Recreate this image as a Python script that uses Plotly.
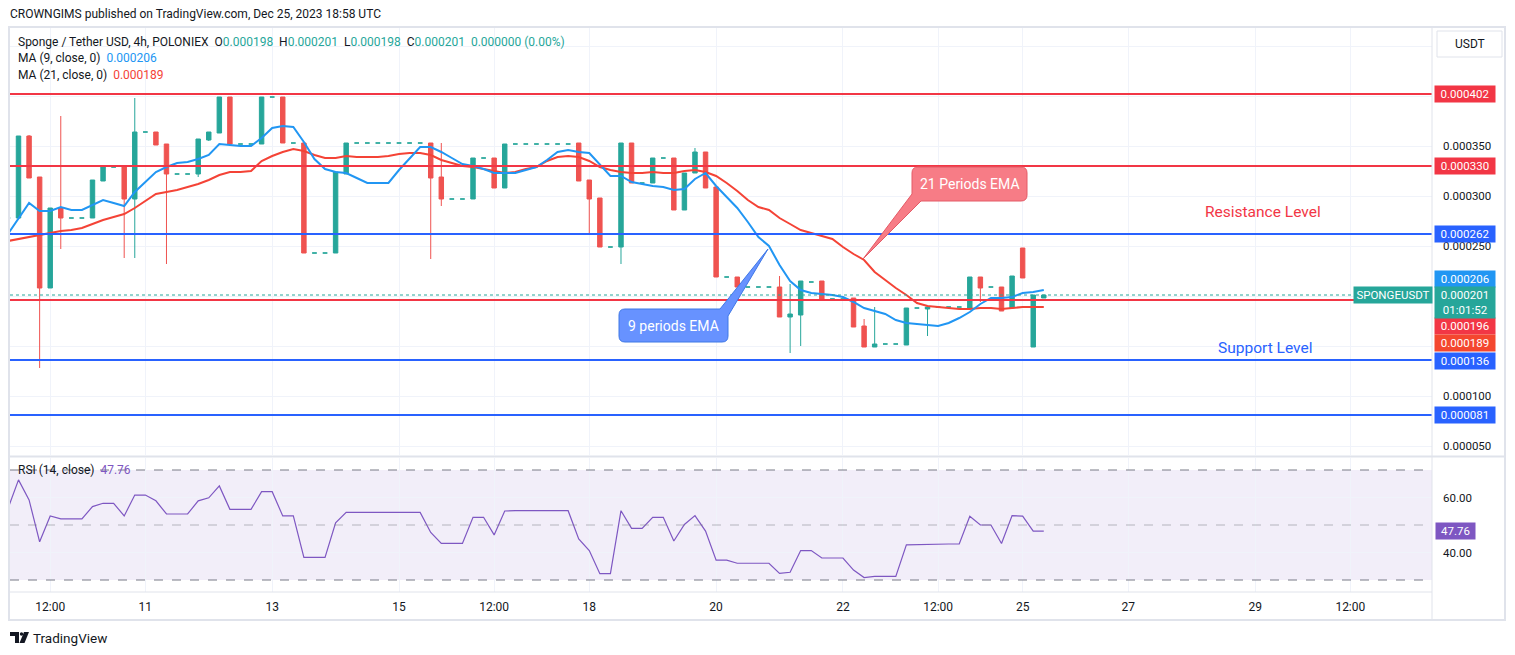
import plotly.graph_objects as go

# SPONGE/USDT 4h, Poloniex. Prices are in millionths of a USDT (278 -> 0.000278)
bar_index = list(range(-1, 98))

opens = [278, 278, 360, 319, 208, 288, 278, 278, 278, 315,
         329, 330, 297, 364, 364, 352, 322, 322, 322, 356,
         363, 399, 352, 352, 352, 399, 399, 353, 353, 243,
         243, 243, 322, 353, 353, 353, 353, 353, 353, 353,
         353, 319, 297, 297, 297, 338, 338, 308, 352, 352,
         352, 352, 352, 352, 353, 316, 298, 249, 249, 353,
         313, 313, 338, 338, 286, 323, 344, 309, 219, 219,
         209, 209, 209, 209, 179, 181, 214, 215, 197, 197,
         198, 170, 149, 152, 152, 151, 188, 187, 189, 189,
         189, 188, 219, 209, 209, 188, 248, 149, 198]
highs = [278, 360, 361, 319, 288, 380, 278, 278, 316, 329,
         329, 330, 398, 364, 364, 352, 322, 322, 357, 364,
         399, 399, 352, 352, 399, 399, 399, 353, 353, 243,
         243, 324, 353, 353, 353, 353, 353, 353, 353, 353,
         353, 353, 297, 297, 338, 338, 338, 352, 352, 352,
         352, 352, 352, 352, 353, 316, 298, 249, 353, 353,
         313, 338, 338, 338, 323, 348, 344, 309, 219, 219,
         209, 209, 209, 220, 212, 215, 214, 215, 197, 197,
         198, 177, 189, 152, 152, 188, 188, 189, 189, 189,
         189, 219, 219, 209, 209, 220, 248, 201, 201]
lows = [278, 278, 318, 128, 208, 247, 278, 278, 278, 315,
        329, 238, 238, 364, 351, 232, 322, 322, 319, 355,
        363, 352, 352, 352, 352, 399, 353, 353, 243, 243,
        243, 243, 322, 353, 353, 353, 353, 353, 353, 353,
        237, 290, 297, 297, 297, 338, 308, 308, 352, 352,
        352, 352, 352, 352, 315, 262, 249, 249, 232, 313,
        313, 313, 338, 286, 286, 323, 308, 219, 219, 209,
        209, 209, 209, 179, 143, 150, 214, 197, 197, 197,
        169, 149, 149, 152, 152, 151, 188, 160, 189, 189,
        189, 188, 194, 209, 185, 188, 218, 149, 198]
closes = [278, 360, 318, 208, 288, 278, 278, 278, 316, 329,
          329, 297, 364, 364, 351, 322, 322, 322, 357, 364,
          399, 352, 352, 352, 399, 399, 353, 353, 243, 243,
          243, 324, 353, 353, 353, 353, 353, 353, 353, 353,
          318, 297, 297, 297, 338, 338, 308, 352, 352, 352,
          352, 352, 352, 352, 315, 297, 249, 249, 353, 313,
          313, 338, 338, 286, 323, 344, 308, 219, 219, 209,
          209, 209, 209, 179, 182, 215, 214, 197, 197, 197,
          169, 149, 152, 152, 152, 188, 188, 189, 189, 189,
          189, 219, 208, 209, 185, 220, 218, 201, 201]

ma9 = [262, 278, 293, 285, 285, 289, 286, 286, 291, 296,
       293, 290, 304, 314, 324, 329, 333, 334, 337, 341,
       352, 351, 350, 350, 358, 368, 370, 369, 354, 337,
       327, 324, 323, 318, 313, 313, 313, 326, 338, 349,
       349, 344, 338, 332, 330, 327, 323, 323, 323, 326,
       329, 336, 344, 346, 344, 343, 332, 320, 320, 314,
       312, 310, 309, 306, 307, 317, 323, 310, 299, 288,
       274, 259, 250, 231, 215, 206, 203, 202, 201, 199,
       194, 188, 185, 182, 176, 173, 172, 171, 170, 173,
       178, 184, 192, 198, 198, 199, 203, 204, 206]
ma21 = [255, 257, 259, 261, 263, 265, 266, 268, 272, 276,
        279, 282, 288, 295, 302, 304, 306, 309, 312, 316,
        321, 324, 324, 325, 335, 340, 344, 347, 345, 341,
        338, 338, 340, 339, 339, 339, 340, 342, 343, 343,
        341, 336, 333, 330, 329, 327, 325, 323, 324, 327,
        329, 335, 339, 340, 339, 335, 329, 326, 324, 323,
        323, 324, 323, 323, 325, 326, 324, 320, 313, 305,
        296, 289, 286, 278, 272, 266, 263, 260, 257, 249,
        242, 236, 224, 216, 208, 201, 193, 190, 189, 188,
        187, 187, 188, 188, 187, 188, 189, 189, 189]
rsi = [56.0, 66.4, 59.1, 43.9, 53.3, 52.2, 52.2, 52.2, 56.7, 57.9,
       57.9, 53.3, 60.9, 60.9, 58.8, 54.0, 54.0, 54.0, 58.8, 59.9,
       64.2, 55.7, 55.7, 55.7, 62.1, 62.1, 53.3, 53.3, 38.2, 38.2,
       38.2, 50.8, 54.6, 54.6, 54.6, 54.6, 54.6, 54.6, 54.6, 54.6,
       47.3, 43.3, 43.3, 43.3, 52.8, 52.8, 46.4, 55.1, 55.2, 55.3,
       55.2, 55.2, 55.2, 55.2, 44.9, 40.7, 32.3, 32.3, 55.2, 48.8,
       48.8, 52.8, 52.8, 44.2, 50.2, 53.4, 47.8, 37.2, 37.2, 36.1,
       36.1, 36.1, 36.1, 32.4, 32.8, 40.7, 40.7, 38.0, 38.0, 38.0,
       33.6, 30.9, 31.3, 31.3, 31.3, 42.8, 42.9, 43.1, 43.1, 43.1,
       43.1, 53.2, 50.0, 50.0, 43.3, 53.4, 53.2, 47.8, 47.76]

date_ticks = [3, 12, 24, 36, 45, 54, 66, 78, 87, 95, 105, 117, 126]
date_labels = ["12:00", "11", "13", "15", "12:00", "18", "20", "22",
               "12:00", "25", "27", "29", "12:00"]

price_ticks = [50, 100, 150, 200, 250, 300, 350, 400, 450]
price_tick_shown = [True, True, False, False, True, True, True, False, False]

levels = [402, 330, 262, 196, 136, 81]
level_colors = ["#F23645", "#F23645", "#2962FF", "#F23645", "#2962FF", "#2962FF"]

# coloured price flags on the right scale: value, colour, shift in px
flag_values = [402, 330, 262, 206, 196, 189, 136, 81]
flag_colors = ["#F23645", "#F23645", "#2962FF", "#2196F3", "#F23645", "#F4472F", "#2962FF", "#2962FF"]
flag_shift = [0, 0, 0, 11, -26, -36, -1, 0]
last_price = 201

UP = "#26A69A"
DOWN = "#EF5350"
TXT = "#131722"
GRID = "#F0F3FA"
BORDER = "#E0E3EB"
FONT = "Roboto"

W, H = 1515, 655
L, R, T, B = 10, 1432, 28, 592   # plot area in px


def pxx(px):
    return (px - L) / (R - L)


def pxy(py):
    return (B - py) / (B - T)


def dx(px):   # px -> bar index
    return (px - 18.5) / 10.57


def dy(py):   # px -> price
    return (496 - py) * 1e-6


def ry(py):   # px -> rsi value
    return 70 - (py - 470) / 2.75


def path(points):
    parts = []
    for p in points:
        if p[0] == "Q":
            parts.append("Q%s,%s %s,%s" % (dx(p[1]), dy(p[2]), dx(p[3]), dy(p[4])))
        else:
            parts.append("%s%s,%s" % (p[0], dx(p[1]), dy(p[2])))
    return " ".join(parts) + " Z"


flat = [o == h == l == c for o, h, l, c in zip(opens, highs, lows, closes)]


def pick(vals, want):
    return [v * 1e-6 for v, f in zip(vals, flat) if f == want]


fig = go.Figure()

fig.add_trace(go.Candlestick(
    x=[i for i, f in zip(bar_index, flat) if not f],
    open=pick(opens, False), high=pick(highs, False),
    low=pick(lows, False), close=pick(closes, False),
    increasing=dict(line=dict(color=UP, width=1), fillcolor=UP),
    decreasing=dict(line=dict(color=DOWN, width=1), fillcolor=DOWN),
    whiskerwidth=0, xaxis="x", yaxis="y"))
fig.add_trace(go.Candlestick(
    x=[i for i, f in zip(bar_index, flat) if f],
    open=pick(opens, True), high=pick(highs, True),
    low=pick(lows, True), close=pick(closes, True),
    increasing=dict(line=dict(color=UP, width=1), fillcolor=UP),
    decreasing=dict(line=dict(color=UP, width=1), fillcolor=UP),
    whiskerwidth=0, xaxis="x", yaxis="y"))

fig.add_trace(go.Scatter(x=bar_index, y=[v * 1e-6 for v in ma21], mode="lines",
                         line=dict(color="#F44336", width=2), xaxis="x", yaxis="y"))
fig.add_trace(go.Scatter(x=bar_index, y=[v * 1e-6 for v in ma9], mode="lines",
                         line=dict(color="#2196F3", width=2), xaxis="x", yaxis="y"))

fig.add_trace(go.Scatter(x=bar_index, y=rsi, mode="lines",
                         line=dict(color="#7E57C2", width=1.2), xaxis="x", yaxis="y2"))

shapes = []
# RSI band and levels
shapes.append(dict(type="rect", xref="paper", yref="y2", x0=0, x1=1, y0=30, y1=70,
                   fillcolor="rgba(126,87,194,0.1)", line=dict(width=0), layer="below"))
for lv, col in [(70, "#787B86"), (50, "rgba(120,123,134,0.5)"), (30, "#787B86")]:
    shapes.append(dict(type="line", xref="paper", yref="y2", x0=0, x1=1, y0=lv, y1=lv,
                       line=dict(color=col, width=1, dash="dash")))

# horizontal levels
for lv, col in zip(levels, level_colors):
    shapes.append(dict(type="line", xref="paper", yref="y", x0=0, x1=1,
                       y0=lv * 1e-6, y1=lv * 1e-6, line=dict(color=col, width=2)))
shapes.append(dict(type="line", xref="paper", yref="y", x0=0, x1=pxx(1353),
                   y0=last_price * 1e-6, y1=last_price * 1e-6,
                   line=dict(color=UP, width=1, dash="dot")))

# frame and separators
shapes.append(dict(type="rect", xref="paper", yref="paper", x0=pxx(9), x1=pxx(1505),
                   y0=pxy(620), y1=pxy(27), line=dict(color=BORDER, width=2)))
shapes.append(dict(type="line", xref="paper", yref="paper", x0=1, x1=1,
                   y0=pxy(620), y1=pxy(27), line=dict(color=BORDER, width=1)))
shapes.append(dict(type="line", xref="paper", yref="paper", x0=0, x1=pxx(1505),
                   y0=pxy(456.5), y1=pxy(456.5), line=dict(color=BORDER, width=2)))
shapes.append(dict(type="line", xref="paper", yref="paper", x0=0, x1=1,
                   y0=0, y1=0, line=dict(color=BORDER, width=1)))

# USDT button
shapes.append(dict(type="rect", xref="paper", yref="paper", x0=pxx(1437), x1=pxx(1502),
                   y0=pxy(57), y1=pxy(31), line=dict(color=BORDER, width=1),
                   fillcolor="white"))

# callouts
shapes.append(dict(type="path", xref="x", yref="y", fillcolor="#F77C86",
                   line=dict(color="#E45A66", width=1),
                   path=path([("M", 918, 167), ("L", 1021, 167), ("Q", 1027, 167, 1027, 173),
                              ("L", 1027, 195), ("Q", 1027, 201, 1021, 201),
                              ("L", 921, 201), ("L", 863, 259), ("L", 912, 194),
                              ("L", 912, 173), ("Q", 912, 167, 918, 167)])))
shapes.append(dict(type="path", xref="x", yref="y", fillcolor="#6792FF",
                   line=dict(color="#3F78E6", width=1),
                   path=path([("M", 625, 309), ("L", 720, 309), ("L", 768, 249),
                              ("L", 728, 316), ("L", 728, 336), ("Q", 728, 342, 722, 342),
                              ("L", 625, 342), ("Q", 619, 342, 619, 336),
                              ("L", 619, 315), ("Q", 619, 309, 625, 309)])))

# TradingView logo mark
shapes.append(dict(type="path", xref="paper", yref="paper", fillcolor=TXT, line=dict(width=0),
                   path="M %f,%f H %f V %f H %f V %f H %f Z" % (
                       pxx(10), pxy(632), pxx(19), pxy(643), pxx(15), pxy(636), pxx(10))))
shapes.append(dict(type="circle", xref="paper", yref="paper", fillcolor=TXT, line=dict(width=0),
                   x0=pxx(19.8), x1=pxx(23.2), y0=pxy(635.7), y1=pxy(632.3)))
shapes.append(dict(type="path", xref="paper", yref="paper", fillcolor=TXT, line=dict(width=0),
                   path="M %f,%f H %f L %f,%f H %f Z" % (
                       pxx(24), pxy(632), pxx(29), pxx(24.5), pxy(643), pxx(19.5))))

ann = []
ann.append(dict(xref="paper", yref="paper", x=pxx(8), y=pxy(14), xanchor="left", yanchor="middle",
                text="CROWNGIMS published on TradingView.com, Dec 25, 2023 18:58 UTC",
                showarrow=False, font=dict(size=12, color=TXT)))
g = lambda s: "<span style='color:%s'>%s</span>" % (UP, s)
ann.append(dict(xref="paper", yref="paper", x=pxx(16), y=pxy(42), xanchor="left", yanchor="middle",
                text="Sponge / Tether USD, 4h, POLONIEX&nbsp;&nbsp;O" + g("0.000198") +
                     "&nbsp;&nbsp;H" + g("0.000201") + "&nbsp;&nbsp;L" + g("0.000198") +
                     "&nbsp;&nbsp;C" + g("0.000201") + "&nbsp;&nbsp;" + g("0.000000 (0.00%)"),
                showarrow=False, font=dict(size=12, color=TXT)))
ann.append(dict(xref="paper", yref="paper", x=pxx(16), y=pxy(58), xanchor="left", yanchor="middle",
                text="MA (9, close, 0)&nbsp;&nbsp;<span style='color:#2196F3'>%.6f</span>" % (ma9[-1] * 1e-6),
                showarrow=False, font=dict(size=12, color=TXT)))
ann.append(dict(xref="paper", yref="paper", x=pxx(16), y=pxy(75), xanchor="left", yanchor="middle",
                text="MA (21, close, 0)&nbsp;&nbsp;<span style='color:#F44336'>%.6f</span>" % (ma21[-1] * 1e-6),
                showarrow=False, font=dict(size=12, color=TXT)))
ann.append(dict(xref="paper", yref="paper", x=pxx(16), y=pxy(470), xanchor="left", yanchor="middle",
                text="RSI (14, close)&nbsp;&nbsp;<span style='color:#7E57C2'>%.2f</span>" % rsi[-1],
                showarrow=False, font=dict(size=12, color=TXT)))
ann.append(dict(xref="paper", yref="paper", x=pxx(1469.5), y=pxy(44), text="USDT",
                xanchor="center", yanchor="middle",
                showarrow=False, font=dict(size=12, color=TXT)))

for v, col, sh in zip(flag_values, flag_colors, flag_shift):
    ann.append(dict(xref="paper", yref="y", x=pxx(1433.5), y=v * 1e-6, yshift=sh,
                    xanchor="left", yanchor="middle", text="%.6f" % (v * 1e-6),
                    showarrow=False, bgcolor=col, width=57, height=13, borderpad=1.5,
                    font=dict(size=11.5, color="white")))
ann.append(dict(xref="paper", yref="y", x=pxx(1433.5), y=last_price * 1e-6, yshift=-7.5,
                xanchor="left", yanchor="middle", text="%.6f<br>01:01:52" % (last_price * 1e-6),
                showarrow=False, bgcolor=UP, width=57, height=28, borderpad=1.5,
                font=dict(size=11.5, color="white")))
ann.append(dict(xref="paper", yref="y", x=pxx(1433), y=last_price * 1e-6, yshift=0,
                xanchor="right", yanchor="middle", text="SPONGEUSDT",
                showarrow=False, bgcolor=UP, width=75, height=13, borderpad=1.5,
                font=dict(size=11.5, color="white")))
ann.append(dict(xref="paper", yref="y2", x=pxx(1435), y=rsi[-1], xanchor="left", yanchor="middle",
                text="%.2f" % rsi[-1], showarrow=False, bgcolor="#7E57C2", width=36, height=13,
                borderpad=1.5, font=dict(size=11.5, color="white")))

ann.append(dict(xref="x", yref="y", x=dx(969.5), y=dy(184), text="21 Periods EMA",
                xanchor="center", yanchor="middle",
                showarrow=False, font=dict(size=14, color="white")))
ann.append(dict(xref="x", yref="y", x=dx(673.5), y=dy(326), text="9 periods EMA",
                xanchor="center", yanchor="middle",
                showarrow=False, font=dict(size=14, color="white")))
ann.append(dict(xref="x", yref="y", x=dx(1263), y=dy(212), text="Resistance Level",
                xanchor="center", yanchor="middle",
                showarrow=False, font=dict(size=15.5, color="#F23645")))
ann.append(dict(xref="x", yref="y", x=dx(1265), y=dy(348), text="Support Level",
                xanchor="center", yanchor="middle",
                showarrow=False, font=dict(size=15.5, color="#2962FF")))
ann.append(dict(xref="paper", yref="paper", x=pxx(31), y=pxy(637.5), xanchor="left",
                yanchor="middle", text="TradingView", showarrow=False,
                font=dict(size=13.5, color=TXT)))

fig.update_layout(
    width=W, height=H,
    margin=dict(l=L, r=W - R, t=T, b=H - B, pad=0),
    paper_bgcolor="white", plot_bgcolor="white",
    font=dict(family=FONT, color=TXT),
    showlegend=False,
    boxgap=0.4,
    xaxis=dict(range=[dx(L), dx(R)], anchor="y2", tickvals=date_ticks, ticktext=date_labels,
               showgrid=True, gridcolor=GRID, zeroline=False, showline=False, ticks="",
               tickfont=dict(size=12, color=TXT), ticklabelstandoff=6,
               rangeslider=dict(visible=False), fixedrange=True),
    yaxis=dict(domain=[pxy(455), 1], range=[dy(455), dy(T)], side="right",
               tickvals=[v * 1e-6 for v in price_ticks],
               ticktext=["%.6f" % (v * 1e-6) if s else "" for v, s in zip(price_ticks, price_tick_shown)],
               showgrid=True, gridcolor=GRID, zeroline=False, showline=False, ticks="",
               tickfont=dict(size=11.5, color=TXT), ticklabelstandoff=10, fixedrange=True),
    yaxis2=dict(domain=[0, pxy(458)], range=[ry(B), ry(458)],
                side="right", tickvals=[40, 60], ticktext=["40.00", "60.00"],
                showgrid=True, gridcolor=GRID, zeroline=False, showline=False, ticks="",
                tickfont=dict(size=11.5, color=TXT), ticklabelstandoff=10, fixedrange=True),
    shapes=shapes,
    annotations=ann,
)

fig.write_html("out.html", config={"displayModeBar": False},
               post_script="document.body.style.margin='0';")
